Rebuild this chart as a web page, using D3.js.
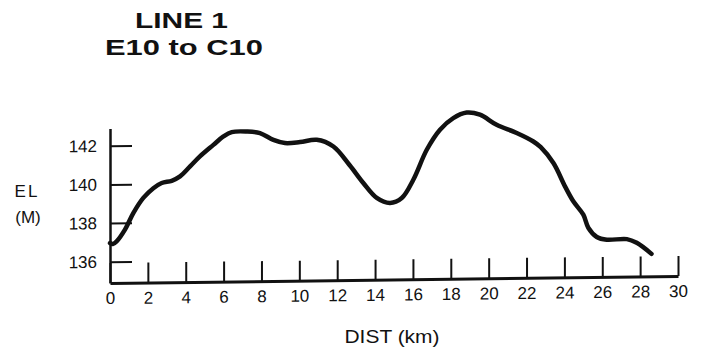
<!DOCTYPE html>
<html>
<head>
<meta charset="utf-8">
<script src="https://cdn.jsdelivr.net/npm/d3@7"></script>
<style>
  body { margin: 0; background: #fff; }
  text { font-family: "Liberation Sans", Arial, sans-serif; fill: #111; }
</style>
</head>
<body>
<div id="chart"></div>
<script>
const titleLines = ["LINE 1", "E10 to C10"];

// elevation profile (km, metres)
const distKm = [0, 0.15, 0.35, 0.79, 1.23, 1.76, 2.29, 2.73, 3.26, 3.7, 4.23, 4.75, 5.46, 5.99, 6.43,
  7.22, 7.92, 8.63, 9.24, 10.04, 10.92, 11.8, 12.65, 13.38, 14.09, 14.79, 15.41, 16.02, 16.73,
  17.43, 18.13, 18.84, 19.54, 20.42, 21.48, 22.36, 22.75, 23.42, 24.03, 24.47, 25.0, 25.27,
  25.71, 26.24, 27.3, 27.82, 28.6];
const elevM = [136.97, 136.92, 137.05, 137.65, 138.5, 139.28, 139.78, 140.04, 140.15, 140.37, 140.88, 141.39, 141.98, 142.41, 142.63,
  142.65, 142.56, 142.2, 142.03, 142.07, 142.18, 141.82, 140.85, 139.91, 139.13, 138.86, 139.11, 140.05, 141.59,
  142.62, 143.21, 143.49, 143.37, 142.84, 142.4, 141.95, 141.65, 140.82, 139.61, 138.83, 138.13, 137.44,
  136.97, 136.82, 136.84, 136.64, 136.06];

const xTicks = [0, 2, 4, 6, 8, 10, 12, 14, 16, 18, 20, 22, 24, 26, 28, 30];
const yTicks = [136, 138, 140, 142];

const width = 701, height = 360;

const svg = d3.select("#chart")
  .append("svg")
  .attr("width", width)
  .attr("height", height);

const x = d3.scaleLinear().domain([0, 30]).range([110, 678]);
const y = d3.scaleLinear().domain([134.9, 142.9]).range([283, 128.4]);

// titles
svg.append("text")
  .attr("x", 181.5).attr("y", 27.5)
  .attr("text-anchor", "middle")
  .attr("font-size", "22px").attr("font-weight", "bold")
  .attr("textLength", 93).attr("lengthAdjust", "spacingAndGlyphs")
  .text(titleLines[0]);

svg.append("text")
  .attr("x", 184).attr("y", 55)
  .attr("text-anchor", "middle")
  .attr("font-size", "22px").attr("font-weight", "bold")
  .attr("textLength", 158).attr("lengthAdjust", "spacingAndGlyphs")
  .text(titleLines[1]);

// the scan is a little skewed: baseline climbs to the right
const plot = svg.append("g")
  .attr("transform", `translate(110,283) skewY(-0.71) translate(-110,-283)`);

const xAxis = plot.append("g")
  .attr("transform", `translate(0,${y.range()[0]})`)
  .call(d3.axisBottom(x).tickValues(xTicks).tickSizeInner(-20).tickSizeOuter(0).tickPadding(9).tickFormat(d3.format("d")));

const yAxis = plot.append("g")
  .attr("transform", `translate(${x.range()[0]},0)`)
  .call(d3.axisLeft(y).tickValues(yTicks).tickSizeInner(-22).tickSizeOuter(0).tickPadding(13).tickFormat(d3.format("d")));

xAxis.select(".domain").attr("stroke", "#111").attr("stroke-width", 3);
yAxis.select(".domain").attr("stroke", "#111").attr("stroke-width", 2.5);
xAxis.selectAll(".tick line").attr("stroke", "#111").attr("stroke-width", 2);
yAxis.selectAll(".tick line").attr("stroke", "#111").attr("stroke-width", 2);
xAxis.selectAll(".tick text").attr("font-size", "17px").attr("font-family", "Liberation Sans, Arial, sans-serif").attr("fill", "#111");
yAxis.selectAll(".tick text").attr("font-size", "17px").attr("font-family", "Liberation Sans, Arial, sans-serif").attr("fill", "#111");
xAxis.select(".tick text").attr("x", 0);

const line = d3.line()
  .x((d, i) => x(distKm[i]))
  .y(d => y(d))
  .curve(d3.curveCatmullRom.alpha(0.5));

plot.append("path")
  .attr("fill", "none")
  .attr("stroke", "#111")
  .attr("stroke-width", 4.5)
  .attr("stroke-linecap", "round")
  .attr("stroke-linejoin", "round")
  .attr("d", line(elevM));

// axis labels
svg.append("text")
  .attr("x", 27).attr("y", 197)
  .attr("text-anchor", "middle")
  .attr("font-size", "17px")
  .attr("letter-spacing", "2px")
  .text("EL");

svg.append("text")
  .attr("x", 28).attr("y", 223)
  .attr("text-anchor", "middle")
  .attr("font-size", "17px")
  .text("(M)");

svg.append("text")
  .attr("x", 392).attr("y", 343)
  .attr("text-anchor", "middle")
  .attr("font-size", "18px")
  .attr("textLength", 95).attr("lengthAdjust", "spacingAndGlyphs")
  .text("DIST (km)");
</script>
</body>
</html>
